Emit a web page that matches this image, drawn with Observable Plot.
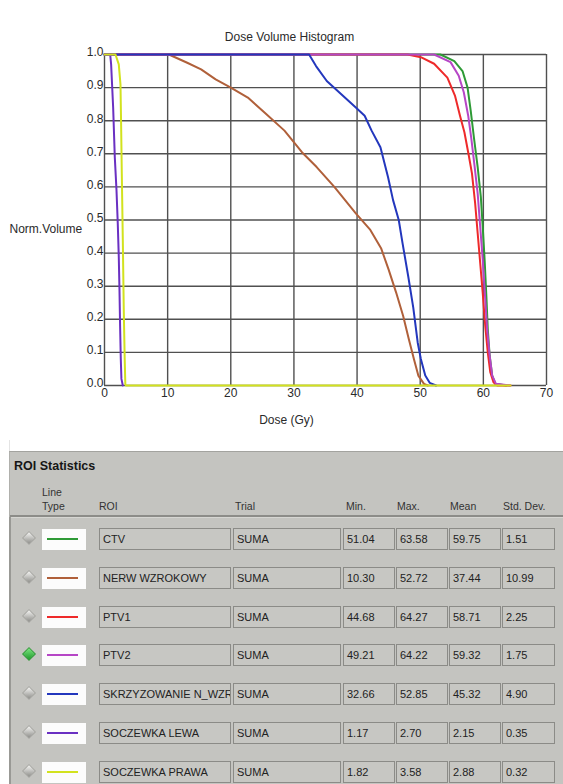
<!DOCTYPE html>
<html>
<head>
<meta charset="utf-8">
<script src="https://cdn.jsdelivr.net/npm/d3@7"></script>
<script src="https://cdn.jsdelivr.net/npm/@observablehq/plot@0.6"></script>
<style>
  html, body { margin: 0; padding: 0; background: #fff; }
  body { width: 563px; height: 784px; position: relative; overflow: hidden; font-family: "Liberation Sans", Arial, sans-serif; }
  #chart { position: absolute; left: 0; top: 0; }
  .abs { position: absolute; }
  .box { position: absolute; box-sizing: border-box; height: 22px; border: 1px solid #8b8b87; background: #c7c7c3;
         font-size: 11px; line-height: 20px; padding-left: 3px; color: #222; white-space: nowrap; overflow: hidden; }
  .hdr { position: absolute; font-size: 10.5px; color: #333; line-height: 12px; }
</style>
</head>
<body>
<div class="abs" style="left:9px;top:12px;width:1px;height:439px;background:#e4e4e4"></div>
<div id="chart"></div>
<div id="panel"></div>
<script>
// ---------- data ----------
const chartTitle = "Dose Volume Histogram";
const xLabel = "Dose (Gy)";
const yLabel = "Norm.Volume";
const doseTicks = [0, 10, 20, 30, 40, 50, 60, 70];
const volTicks = [0, 0.1, 0.2, 0.3, 0.4, 0.5, 0.6, 0.7, 0.8, 0.9, 1.0];

const roiNames = ["CTV", "NERW WZROKOWY", "PTV1", "PTV2", "SKRZYZOWANIE N_WZR", "SOCZEWKA LEWA", "SOCZEWKA PRAWA"];
const trials = ["SUMA", "SUMA", "SUMA", "SUMA", "SUMA", "SUMA", "SUMA"];
const minDose = ["51.04", "10.30", "44.68", "49.21", "32.66", "1.17", "1.82"];
const maxDose = ["63.58", "52.72", "64.27", "64.22", "52.85", "2.70", "3.58"];
const meanDose = ["59.75", "37.44", "58.71", "59.32", "45.32", "2.15", "2.88"];
const stdDev = ["1.51", "10.99", "2.25", "1.75", "4.90", "0.35", "0.32"];
const roiColors = ["#2e9a36", "#b0603a", "#ee2a2a", "#b646c6", "#2337bd", "#6a30c2", "#d2e21e"];
const selectedRoi = "PTV2";

// DVH curves: [dose Gy, normalized volume]
const ctvCurve = [[0,1],[53.2,1],[55.4,0.98],[56.7,0.95],[57.5,0.9],[58.0,0.83],[58.5,0.75],[59.1,0.66],[59.6,0.57],[59.9,0.48],[60.2,0.38],[60.5,0.26],[60.7,0.17],[61.0,0.09],[61.4,0.03],[61.9,0.005],[63.6,0]];
const nerwCurve = [[0,1],[10.2,1],[13.1,0.975],[15.3,0.955],[17.6,0.925],[20.0,0.9],[22.7,0.87],[25.6,0.82],[28.5,0.77],[31.3,0.704],[33.6,0.66],[36.4,0.6],[39.8,0.52],[42.1,0.47],[43.8,0.415],[45.0,0.35],[46.2,0.28],[47.3,0.21],[48.2,0.14],[49.0,0.08],[49.7,0.03],[50.6,0.005],[51.2,0]];
const ptv1Curve = [[0,1],[48.0,1],[50.1,0.992],[52.2,0.972],[54.3,0.93],[55.5,0.876],[56.3,0.815],[57.0,0.765],[57.7,0.694],[58.2,0.64],[58.7,0.55],[59.1,0.46],[59.5,0.37],[59.9,0.28],[60.3,0.18],[60.7,0.1],[61.1,0.04],[61.6,0.01],[62.2,0],[64.3,0]];
const ptv2Curve = [[0,1],[52.2,1],[54.8,0.977],[56.1,0.936],[56.9,0.886],[57.6,0.815],[58.1,0.745],[58.6,0.664],[59.1,0.58],[59.5,0.48],[59.9,0.38],[60.3,0.26],[60.6,0.17],[61.0,0.09],[61.4,0.03],[62.0,0.005],[64.2,0]];
const skrzCurve = [[0,1],[32.4,1],[33.5,0.965],[35.2,0.92],[37.5,0.88],[39.8,0.84],[41.2,0.815],[42.3,0.77],[43.7,0.72],[44.9,0.63],[45.7,0.56],[46.6,0.5],[47.2,0.43],[48.1,0.33],[48.9,0.235],[49.6,0.13],[50.1,0.08],[50.8,0.03],[51.5,0.008],[52.5,0]];
const lewaCurve = [[0,1],[0.9,1],[1.05,0.97],[1.37,0.84],[1.63,0.69],[1.9,0.59],[2.1,0.49],[2.26,0.39],[2.37,0.29],[2.47,0.18],[2.58,0.08],[2.68,0.02],[2.9,0]];
const prawaCurve = [[0,1],[1.74,1],[2.26,0.97],[2.53,0.91],[2.63,0.79],[2.74,0.64],[2.9,0.44],[3.05,0.23],[3.2,0.08],[3.3,0.003],[3.4,0],[64.3,0]];
const curves = [ctvCurve, nerwCurve, ptv1Curve, ptv2Curve, skrzCurve, lewaCurve, prawaCurve];

// ---------- chart ----------
const plot = Plot.plot({
  width: 563,
  height: 440,
  marginLeft: 104,
  marginRight: 17,
  marginTop: 54,
  marginBottom: 55,
  style: { fontFamily: "'Liberation Sans', Arial, sans-serif", fontSize: "12px", color: "#2a2a2a", background: "white" },
  x: { domain: [0, 70] },
  y: { domain: [0, 1] },
  marks: [
    Plot.ruleX(doseTicks, { x: d => d, stroke: "#505050", strokeWidth: 1.4 }),
    Plot.ruleY(volTicks, { y: d => d, stroke: "#505050", strokeWidth: 1.4 }),
    ...curves.map((c, i) => Plot.line(c, { x: d => d[0], y: d => d[1], stroke: roiColors[i], strokeWidth: 2 })),
    Plot.axisX({ ticks: doseTicks, tickSize: 0, tickPadding: 3, label: null, tickFormat: d => String(d) }),
    Plot.axisY({ ticks: volTicks, tickSize: 0, tickPadding: 1, label: null, tickFormat: d => d.toFixed(1), dy: -2 }),
    Plot.text([chartTitle], { text: d => d, frameAnchor: "top", dy: -22, dx: -36 }),
    Plot.text([xLabel], { text: d => d, frameAnchor: "bottom", dy: 38, dx: -39 }),
    Plot.text([yLabel], { text: d => d, frameAnchor: "left", textAnchor: "start", dx: -95, dy: 9 })
  ]
});
document.getElementById("chart").appendChild(plot);

// ---------- ROI statistics panel ----------
const panel = document.getElementById("panel");
function el(html) { panel.insertAdjacentHTML("beforeend", html); }
el(`<div class="abs" style="left:9px;top:451px;width:554px;height:333px;background:#c4c4c0;border-top:1px solid #a3a39f;border-left:1px solid #b0b0ac;box-sizing:border-box"></div>`);
el(`<div class="abs" style="left:14px;top:459px;font-size:12.5px;font-weight:bold;color:#161616">ROI Statistics</div>`);
el(`<div class="hdr" style="left:42px;top:486px">Line</div>`);
el(`<div class="hdr" style="left:42px;top:500px">Type</div>`);
const headers = [["ROI", 99], ["Trial", 235], ["Min.", 346], ["Max.", 397], ["Mean", 450], ["Std. Dev.", 503]];
headers.forEach(([t, x]) => el(`<div class="hdr" style="left:${x}px;top:500px">${t}</div>`));
el(`<div class="abs" style="left:10px;top:515px;width:553px;height:2px;background:#8c8c88"></div>`);
el(`<div class="abs" style="left:10px;top:517px;width:553px;height:1px;background:#d6d6d2"></div>`);
el(`<div class="abs" style="left:9px;top:517px;width:2px;height:267px;background:#999995"></div>`);

const cols = [[99, 132], [233, 108], [343, 52], [396, 52], [449, 52], [502, 53]];
roiNames.forEach((name, i) => {
  const c = Math.round(539 + i * 38.8);
  const sel = name === selectedRoi;
  const dFill = sel ? "linear-gradient(135deg,#7be47f,#1f9a2c)" : "linear-gradient(135deg,#f4f4f2,#8e8e8a)";
  el(`<div class="abs" style="left:25px;top:${c-5}px;width:8px;height:8px;transform:rotate(45deg);background:${dFill};box-shadow:0 0 0 1px ${sel ? '#3a9a40' : '#a8a8a4'}"></div>`);
  el(`<div class="abs" style="left:42px;top:${c-10}px;width:44px;height:21px;background:#fcfcfc"></div>`);
  el(`<div class="abs" style="left:47px;top:${c-1}px;width:31px;height:2px;background:${roiColors[i]}"></div>`);
  const vals = [name, trials[i], minDose[i], maxDose[i], meanDose[i], stdDev[i]];
  vals.forEach((v, j) => el(`<div class="box" style="left:${cols[j][0]}px;top:${c-11}px;width:${cols[j][1]}px">${v}</div>`));
});
</script>
</body>
</html>
